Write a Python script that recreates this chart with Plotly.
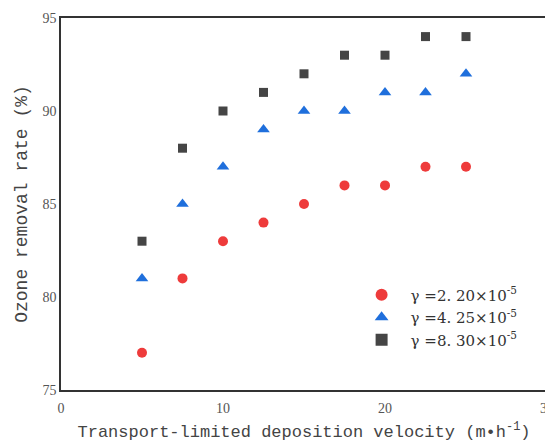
import plotly.graph_objects as go

x_vals = [5, 7.5, 10, 12.5, 15, 17.5, 20, 22.5, 25]
red_vals = [77, 81, 83, 84, 85, 86, 86, 87, 87]
blue_vals = [81, 85, 87, 89, 90, 90, 91, 91, 92]
gray_vals = [83, 88, 90, 91, 92, 93, 93, 94, 94]
names = ["γ =2. 20×10<sup>-5</sup>", "γ =4. 25×10<sup>-5</sup>", "γ =8. 30×10<sup>-5</sup>"]

serif = "Liberation Serif, DejaVu Serif, serif"
lserif = "DejaVu Serif, serif"
mono = "Liberation Mono, DejaVu Sans Mono, monospace"

fig = go.Figure()
fig.add_trace(go.Scatter(x=x_vals, y=red_vals, mode="markers", name=names[0],
                         marker=dict(symbol="circle", size=10, color="#ee3b3b")))
fig.add_trace(go.Scatter(x=x_vals, y=blue_vals, mode="markers", name=names[1],
                         marker=dict(symbol="triangle-up", size=11, color="#1f6fdc")))
fig.add_trace(go.Scatter(x=x_vals, y=gray_vals, mode="markers", name=names[2],
                         marker=dict(symbol="square", size=9, color="#454545")))

# page body adds an 8px offset at left/top
fig.update_layout(
    width=553, height=435,
    margin=dict(l=53, r=14, t=10, b=53),
    paper_bgcolor="white", plot_bgcolor="white",
    showlegend=True,
    legend=dict(x=0.6, y=0.3, xanchor="left", yanchor="top",
                font=dict(family=lserif, size=15, color="#333"),
                bgcolor="rgba(0,0,0,0)", itemsizing="constant", itemwidth=48),
    font=dict(family=serif, color="#444"),
)
fig.update_xaxes(range=[0, 30], dtick=10, showgrid=False, zeroline=False,
                 showline=True, mirror=True, linecolor="#333", linewidth=1.5,
                 ticks="", automargin=False, ticklabelstandoff=4,
                 tickfont=dict(family=serif, size=14, color="#555"),
                 title=dict(text="Transport-limited deposition velocity (m•h<sup>-1</sup>)",
                            font=dict(family=mono, size=17, color="#444"), standoff=11))
fig.update_yaxes(range=[75, 95], dtick=5, showgrid=False, zeroline=False,
                 showline=True, mirror=True, linecolor="#333", linewidth=1.5,
                 ticks="", automargin=False,
                 tickfont=dict(family=serif, size=14, color="#555"),
                 title=dict(text="Ozone removal rate (%)",
                            font=dict(family=mono, size=18, color="#444"), standoff=10))

fig.write_html("out.html")
